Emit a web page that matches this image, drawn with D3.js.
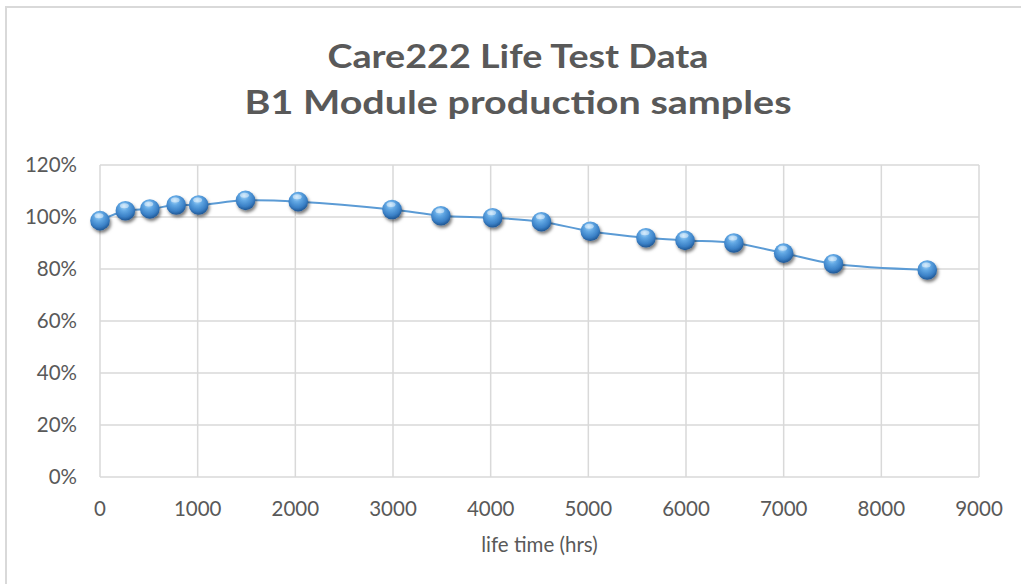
<!DOCTYPE html>
<html>
<head>
<meta charset="utf-8">
<script src="https://cdn.jsdelivr.net/npm/d3@7"></script>
<style>
  body { margin: 0; background: #fff; }
  text { font-family: Lato, "Open Sans", sans-serif; fill: #595959; }
</style>
</head>
<body>
<script>
// life test readings
const hours = [0, 260, 510, 780, 1010, 1490, 2030, 2990, 3490, 4020, 4520, 5020, 5590, 5990, 6490, 7000, 7510, 8470];
const output = [0.986, 1.024, 1.031, 1.046, 1.046, 1.064, 1.059, 1.029, 1.005, 0.997, 0.982, 0.945, 0.920, 0.910, 0.900, 0.861, 0.820, 0.796];
const xTicks = [0, 1000, 2000, 3000, 4000, 5000, 6000, 7000, 8000, 9000];
const yTicks = [0, 0.2, 0.4, 0.6, 0.8, 1.0, 1.2];
const titleLines = ['Care222 Life Test Data', 'B1 Module production samples'];
const xTitle = 'life time (hrs)';

const width = 1021, height = 584;
const plot = { left: 100, right: 979, top: 165, bottom: 477 };

const svg = d3.select('body').append('svg')
  .attr('width', width)
  .attr('height', height);

const defs = svg.append('defs');

// sphere look for the markers
const grad = defs.append('radialGradient')
  .attr('id', 'ball')
  .attr('cx', '45%').attr('cy', '35%').attr('r', '65%')
  .attr('fx', '42%').attr('fy', '25%');
grad.append('stop').attr('offset', '0%').attr('stop-color', '#b3ddfb');
grad.append('stop').attr('offset', '35%').attr('stop-color', '#62a8e4');
grad.append('stop').attr('offset', '75%').attr('stop-color', '#3a80c6');
grad.append('stop').attr('offset', '100%').attr('stop-color', '#1f5693');

const shadow = defs.append('filter')
  .attr('id', 'shadow')
  .attr('x', '-50%').attr('y', '-50%')
  .attr('width', '200%').attr('height', '200%');
shadow.append('feDropShadow')
  .attr('dx', 1.5).attr('dy', 2.5)
  .attr('stdDeviation', 1.6)
  .attr('flood-color', '#000')
  .attr('flood-opacity', 0.5);

// chart border (runs off the right and bottom edges)
svg.append('rect')
  .attr('x', 6).attr('y', 7)
  .attr('width', 1030).attr('height', 600)
  .attr('fill', 'none')
  .attr('stroke', '#d9d9d9')
  .attr('stroke-width', 2);

const x = d3.scaleLinear().domain([0, 9000]).range([plot.left, plot.right]);
const y = d3.scaleLinear().domain([0, 1.2]).range([plot.bottom, plot.top]);

// gridlines
svg.append('g')
  .selectAll('line')
  .data(yTicks)
  .enter()
  .append('line')
  .attr('x1', plot.left).attr('x2', plot.right)
  .attr('y1', (d) => y(d)).attr('y2', (d) => y(d))
  .attr('stroke', '#d9d9d9')
  .attr('stroke-width', 1.5);

svg.append('g')
  .selectAll('line')
  .data(xTicks)
  .enter()
  .append('line')
  .attr('x1', (d) => x(d)).attr('x2', (d) => x(d))
  .attr('y1', plot.top).attr('y2', plot.bottom)
  .attr('stroke', '#d9d9d9')
  .attr('stroke-width', 1.5);

// tick labels
svg.append('g')
  .selectAll('text')
  .data(yTicks)
  .enter()
  .append('text')
  .attr('x', 77)
  .attr('y', (d) => y(d))
  .attr('dy', '0.35em')
  .attr('text-anchor', 'end')
  .style('font-size', '20.5px')
  .text(d3.format('.0%'));

svg.append('g')
  .selectAll('text')
  .data(xTicks)
  .enter()
  .append('text')
  .attr('x', (d) => x(d))
  .attr('y', 516)
  .attr('text-anchor', 'middle')
  .style('font-size', '20.5px')
  .text((d) => d);

svg.append('text')
  .attr('x', (plot.left + plot.right) / 2)
  .attr('y', 552)
  .attr('text-anchor', 'middle')
  .style('font-size', '20.5px')
  .text(xTitle);

// title
const titleWidths = [381, 547];
svg.append('g')
  .selectAll('text')
  .data(titleLines)
  .enter()
  .append('text')
  .attr('x', 518)
  .attr('y', (d, i) => 68 + i * 46)
  .attr('text-anchor', 'middle')
  .attr('textLength', (d, i) => titleWidths[i])
  .attr('lengthAdjust', 'spacingAndGlyphs')
  .style('font-size', '33px')
  .style('font-weight', 'bold')
  .text((d) => d);

// smoothed line
const points = hours.map((h, i) => [h, output[i]]);
const line = d3.line()
  .x((d) => x(d[0]))
  .y((d) => y(d[1]))
  .curve(d3.curveCatmullRom.alpha(0.5));

svg.append('path')
  .datum(points)
  .attr('d', line)
  .attr('fill', 'none')
  .attr('stroke', '#5b9bd5')
  .attr('stroke-width', 2);

// sphere markers
const balls = svg.append('g')
  .selectAll('g')
  .data(points)
  .enter()
  .append('g')
  .attr('transform', (d) => `translate(${x(d[0])},${y(d[1])})`);

balls.append('circle')
  .attr('r', 9.8)
  .attr('fill', 'url(#ball)')
  .attr('filter', 'url(#shadow)');

balls.append('ellipse')
  .attr('cx', -1).attr('cy', -5)
  .attr('rx', 4.5).attr('ry', 2.5)
  .attr('fill', '#fff')
  .attr('opacity', 0.45);
</script>
</body>
</html>
